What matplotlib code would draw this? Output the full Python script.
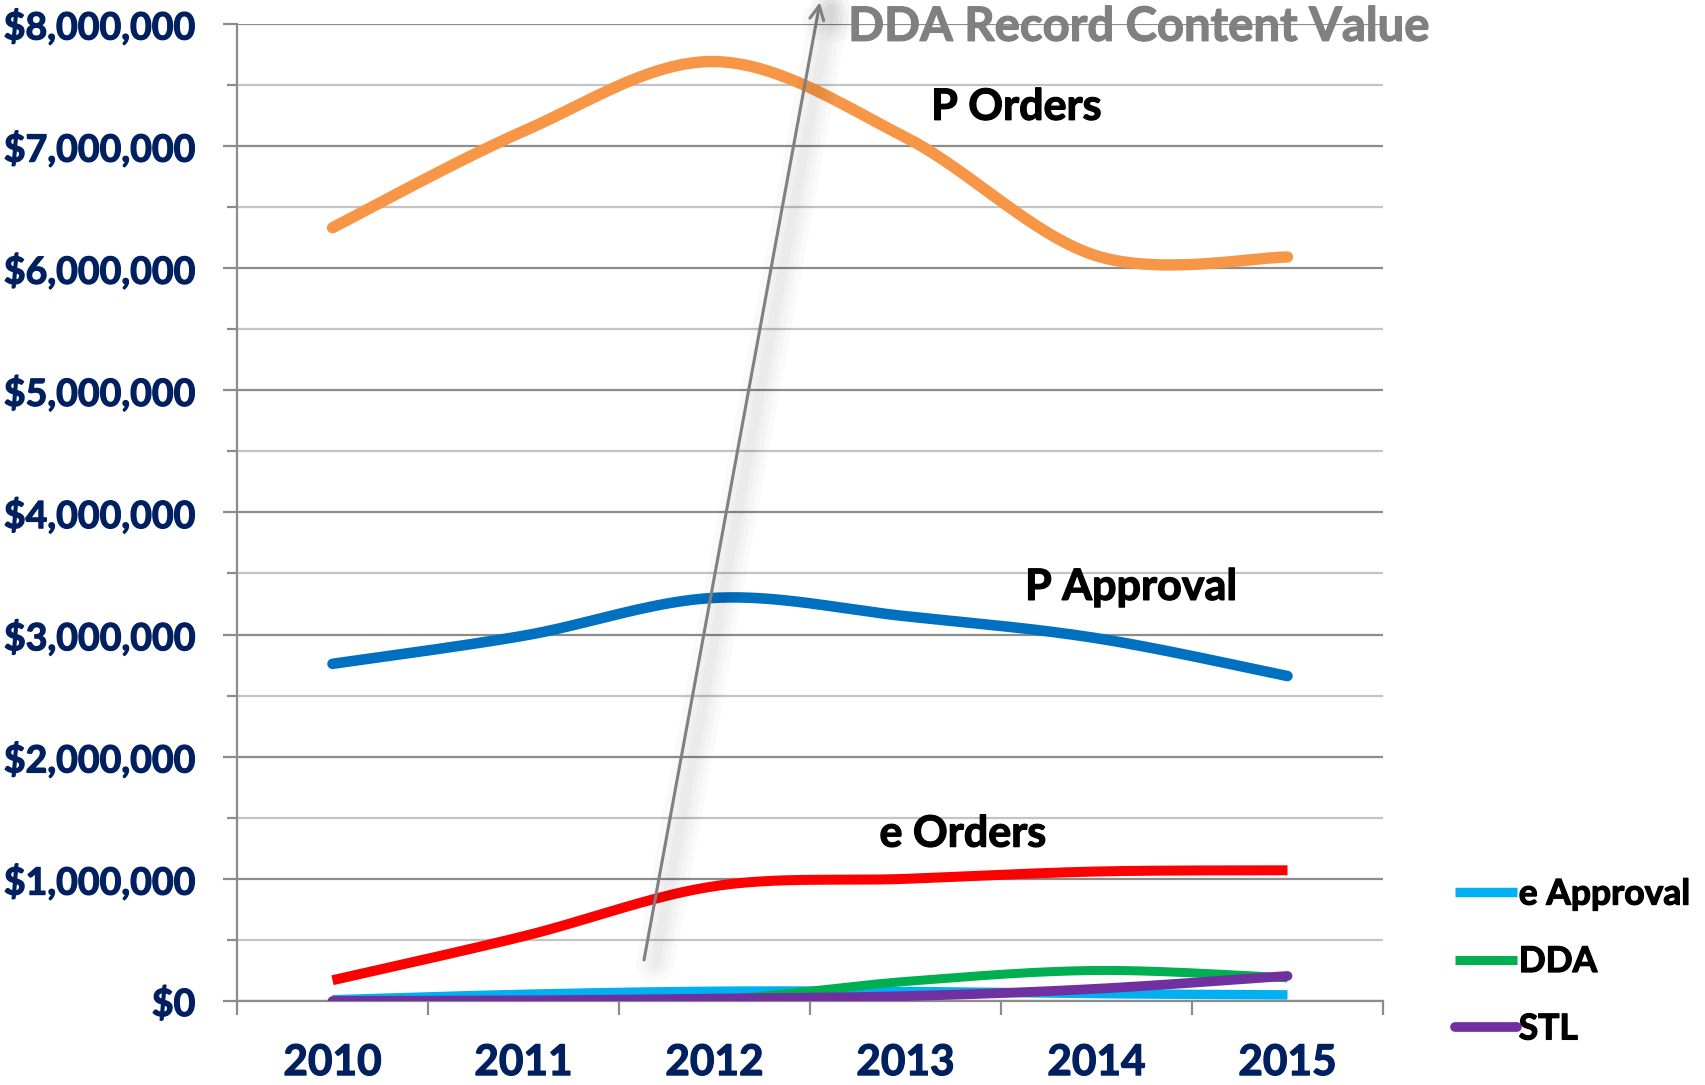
import numpy as np
import matplotlib
matplotlib.use("Agg")
import matplotlib.pyplot as plt
from matplotlib.ticker import FuncFormatter, MultipleLocator, FixedLocator
from matplotlib import patheffects as pe

plt.rcParams['font.family'] = ['Lato', 'DejaVu Sans']

# ---------------- data ----------------
years = ["2010", "2011", "2012", "2013", "2014", "2015"]
p_orders   = [6.33e6, 7.12e6, 7.69e6, 7.07e6, 6.10e6, 6.09e6]
p_approval = [2.76e6, 2.99e6, 3.30e6, 3.15e6, 2.97e6, 2.66e6]
e_orders   = [0.17e6, 0.53e6, 0.94e6, 1.00e6, 1.06e6, 1.07e6]
e_approval = [0.01e6, 0.055e6, 0.08e6, 0.078e6, 0.06e6, 0.05e6]
dda        = [0.0, 0.0, 0.01e6, 0.16e6, 0.25e6, 0.19e6]
stl        = [0.0, 0.005e6, 0.02e6, 0.04e6, 0.10e6, 0.205e6]
y_ticks = [0, 1e6, 2e6, 3e6, 4e6, 5e6, 6e6, 7e6, 8e6]

# ---------------- helpers ----------------
def smooth(xs, ys, n=40):
    """Excel-like smoothed line (cubic Bezier through points)."""
    xs = np.asarray(xs, float); ys = np.asarray(ys, float)
    P = np.column_stack([xs, ys])
    out = []
    m = len(P)
    for i in range(m - 1):
        p0 = P[i - 1] if i > 0 else P[i]
        p1 = P[i]; p2 = P[i + 1]
        p3 = P[i + 2] if i + 2 < m else P[i + 1]
        c1 = p1 + (p2 - p0) / 6.0
        c2 = p2 - (p3 - p1) / 6.0
        t = np.linspace(0, 1, n)[:, None]
        seg = ((1 - t) ** 3) * p1 + 3 * ((1 - t) ** 2) * t * c1 + 3 * (1 - t) * t ** 2 * c2 + t ** 3 * p2
        if i > 0:
            seg = seg[1:]
        out.append(seg)
    out = np.vstack(out)
    return out[:, 0], out[:, 1]

def heavy(color):
    return [pe.withStroke(linewidth=0.9, foreground=color)]

# ---------------- figure ----------------
fig = plt.figure(figsize=(17.05, 10.85), dpi=100)
ax = fig.add_axes([237 / 1705, 84 / 1085, 1146 / 1705, 977.3 / 1085])

x = np.arange(len(years))
ax.set_xlim(-0.5, len(years) - 0.5)
ax.set_ylim(0, 8e6)

grid_major = '#8C8C8C'
grid_minor = '#C4C4C4'
ax.yaxis.set_major_locator(FixedLocator(y_ticks))
ax.yaxis.set_minor_locator(MultipleLocator(5e5))
ax.grid(True, which='major', axis='y', color=grid_major, lw=1.6, zorder=0)
ax.grid(True, which='minor', axis='y', color=grid_minor, lw=1.6, zorder=0)
ax.set_axisbelow(True)

for s in ['top', 'right']:
    ax.spines[s].set_visible(False)
for s in ['left', 'bottom']:
    ax.spines[s].set_color(grid_major)
    ax.spines[s].set_linewidth(1.6)

navy = '#002060'
ax.yaxis.set_major_formatter(FuncFormatter(lambda v, p: "${:,.0f}".format(v)))
ax.tick_params(axis='y', which='major', length=10, width=1.6, color=grid_major,
               labelsize=27, labelcolor=navy, pad=20)
ax.tick_params(axis='y', which='minor', length=7, width=1.6, color=grid_major)

ax.set_xticks(x)
ax.set_xticklabels(years, fontsize=30.5, fontweight='bold', color=navy)
ax.set_xticks(np.arange(-0.5, len(years)), minor=True)
ax.tick_params(axis='x', which='major', length=0, pad=31)
ax.tick_params(axis='x', which='minor', length=10, width=1.6, color=grid_major)

fig.canvas.draw()
for lab in ax.get_yticklabels() + ax.get_xticklabels():
    lab.set_fontweight('bold')
    lab.set_path_effects(heavy(navy))

series = [
    (p_orders,   '#F79646', 8.2, 'round', 'P Orders'),
    (p_approval, '#0070C0', 7.6, 'round', 'P Approval'),
    (e_orders,   '#FF0000', 7.2, 'butt',  'e Orders'),
    (e_approval, '#00B0F0', 6.8, 'butt',  'e Approval'),
    (dda,        '#00B050', 6.5, 'butt',  'DDA'),
    (stl,        '#7030A0', 7.0, 'round', 'STL'),
]
handles = {}
for vals, col, lw, cap, name in series:
    sx, sy = smooth(x, vals)
    ln, = ax.plot(sx, sy, color=col, lw=lw, solid_capstyle=cap, zorder=3, label=name)
    handles[name] = ln

# line labels
lab_kw = dict(fontsize=31, fontweight='bold', color='black', ha='center', va='center',
              zorder=5, path_effects=heavy('black'))
ax.text(3.58, 7.32e6, "P Orders", **lab_kw)
ax.text(4.18, 3.39e6, "P Approval", **lab_kw)
ax.text(3.30, 1.37e6, "e Orders", **lab_kw)

# arrow with soft shadow
shadow = [pe.Stroke(offset=(8, -2), linewidth=w, foreground='black', alpha=0.02)
          for w in (28, 20, 13, 7)] + [pe.Normal()]
ax.annotate("", xy=(2.552, 8.175e6), xytext=(1.631, 0.336e6),
            arrowprops=dict(arrowstyle='->,head_length=0.5,head_width=0.25',
                            color='#808080', lw=2.2, mutation_scale=20,
                            shrinkA=0, shrinkB=0, path_effects=shadow),
            annotation_clip=False, zorder=4)
ax.text(2.70, 7.86e6, "DDA Record Content Value", fontsize=34, fontweight='bold',
        color='#808080', ha='left', va='baseline', clip_on=False, zorder=5,
        path_effects=heavy('#808080'))

# legend
leg = ax.legend(handles=[handles['e Approval'], handles['DDA'], handles['STL']],
                loc='center left', bbox_to_anchor=(1455 / 1705, (1085 - 962) / 1085),
                bbox_transform=fig.transFigure, frameon=False,
                prop={'size': 25.5, 'weight': 'bold'}, handlelength=1.75,
                handletextpad=0.05, labelspacing=1.0, borderpad=0, borderaxespad=0)
for t in leg.get_texts():
    t.set_color('black')
    t.set_path_effects(heavy('black'))

fig.savefig("out.png", dpi=100)
